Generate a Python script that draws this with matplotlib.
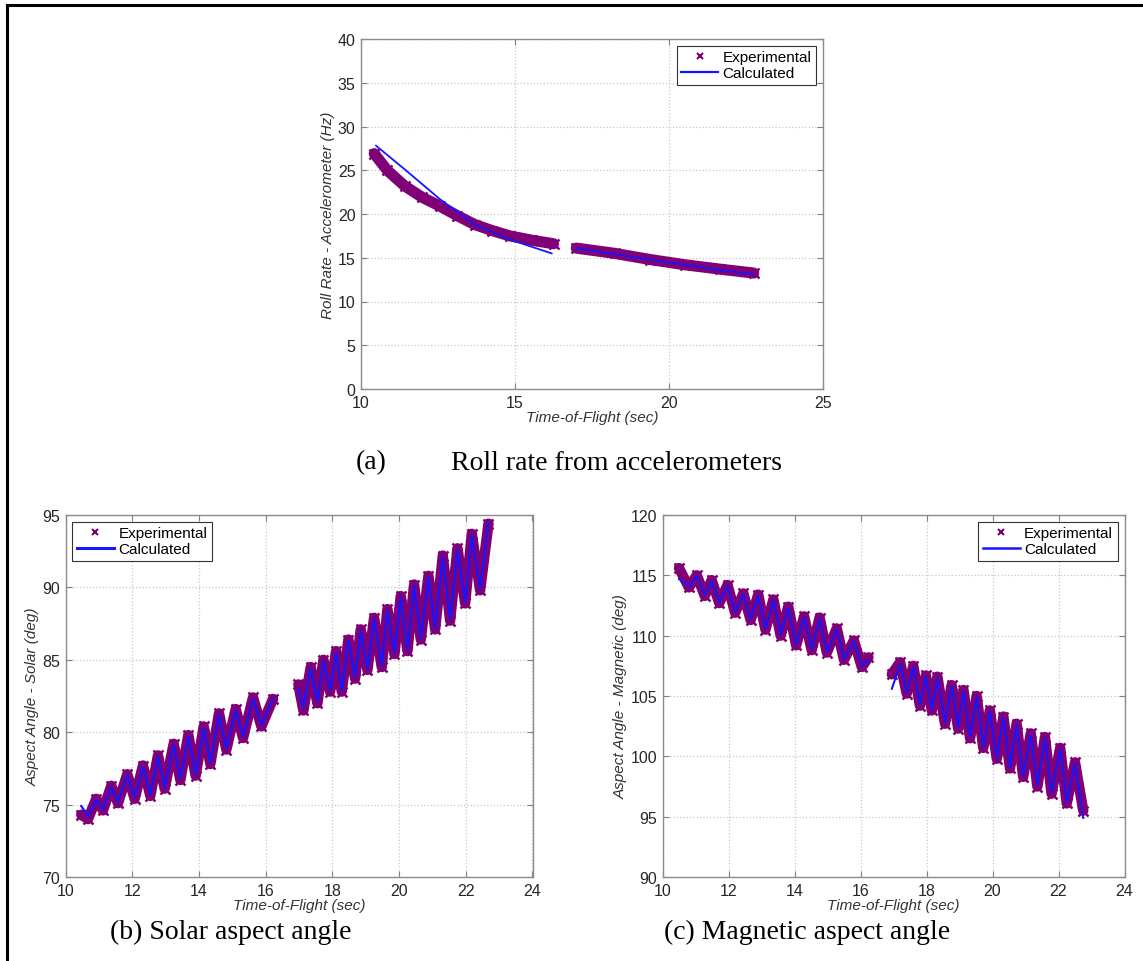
import matplotlib
matplotlib.use("Agg")
import matplotlib.pyplot as plt
from matplotlib.lines import Line2D

# (a) roll rate, Hz
roll_exp_t1 = [10.43, 10.85, 11.42, 11.99, 12.56, 13.13, 13.69, 14.26, 14.83, 15.55, 16.25]
roll_exp_v1 = [26.9, 25.0, 23.2, 21.9, 20.9, 19.8, 18.8, 18.1, 17.5, 17.0, 16.6]
roll_exp_t2 = [16.99, 18.24, 19.38, 20.51, 21.65, 22.75]
roll_exp_v2 = [16.1, 15.5, 14.8, 14.2, 13.7, 13.25]
roll_cal_t1 = [10.49, 11.42, 12.56, 13.69, 14.83, 15.50, 16.19]
roll_cal_v1 = [27.8, 25.1, 21.7, 18.8, 17.1, 16.3, 15.5]
roll_cal_t2 = [16.99, 18.24, 19.38, 20.51, 21.65, 22.75]
roll_cal_v2 = [16.1, 15.4, 14.8, 14.2, 13.6, 13.1]

# (b) solar aspect angle, deg
sol_t1 = [10.47, 10.67, 10.92, 11.12, 11.37, 11.57, 11.85, 12.07, 12.32, 12.54, 12.77, 12.97, 13.24,
          13.44, 13.68, 13.90, 14.14, 14.34, 14.60, 14.82, 15.10, 15.32, 15.62, 15.87, 16.22]
sol_exp_v1 = [74.3, 74.0, 75.4, 74.6, 76.3, 75.1, 77.1, 75.4, 77.7, 75.6, 78.4, 76.1, 79.2,
              76.7, 79.8, 77.0, 80.4, 77.8, 81.3, 78.8, 81.6, 79.6, 82.4, 80.4, 82.3]
sol_cal_v1 = [74.9, 74.2, 75.3, 74.7, 76.2, 75.2, 77.0, 75.5, 77.6, 75.7, 78.3, 76.2, 79.1,
              76.8, 79.7, 77.1, 80.3, 77.9, 81.2, 78.9, 81.5, 79.7, 82.3, 80.5, 82.3]
sol_t2 = [16.98, 17.13, 17.35, 17.55, 17.73, 17.93, 18.11, 18.28, 18.48, 18.68, 18.85, 19.05, 19.25,
          19.48, 19.65, 19.86, 20.05, 20.25, 20.45, 20.65, 20.88, 21.08, 21.31, 21.53, 21.75, 21.98,
          22.18, 22.43, 22.68]
sol_exp_v2 = [83.3, 81.5, 84.5, 82.0, 85.0, 82.8, 85.6, 82.8, 86.4, 83.7, 87.1, 84.3, 87.9,
              84.5, 88.5, 85.4, 89.4, 85.6, 90.2, 86.4, 90.8, 87.1, 92.2, 87.7, 92.7, 88.9,
              93.7, 89.8, 94.4]
sol_cal_v2 = [83.0, 81.7, 84.4, 82.1, 84.9, 82.9, 85.5, 82.9, 86.3, 83.8, 87.0, 84.4, 87.8,
              84.6, 88.4, 85.5, 89.3, 85.7, 90.1, 86.5, 90.7, 87.2, 92.1, 87.8, 92.6, 89.0,
              93.6, 89.9, 94.5]

# (c) magnetic aspect angle, deg
mag_t1 = [10.50, 10.80, 11.04, 11.28, 11.49, 11.72, 11.97, 12.20, 12.45, 12.67, 12.90, 13.12, 13.36,
          13.58, 13.81, 14.05, 14.29, 14.52, 14.76, 14.98, 15.28, 15.50, 15.80, 16.04, 16.24]
mag_exp_v1 = [115.6, 114.0, 115.0, 113.3, 114.6, 112.7, 114.2, 111.9, 113.5, 111.3, 113.4, 110.5, 113.0,
              110.0, 112.4, 109.2, 111.6, 108.8, 111.5, 108.6, 110.6, 108.0, 109.6, 107.4, 108.2]
mag_cal_v1 = [114.7, 114.1, 114.9, 113.4, 114.5, 112.8, 114.1, 112.0, 113.4, 111.4, 113.3, 110.6, 112.9,
              110.1, 112.3, 109.3, 111.5, 108.9, 111.4, 108.7, 110.5, 108.1, 109.5, 107.5, 108.0]
mag_t2 = [16.95, 17.20, 17.40, 17.60, 17.80, 17.98, 18.16, 18.33, 18.56, 18.76, 18.96, 19.12, 19.32,
          19.52, 19.72, 19.92, 20.13, 20.33, 20.53, 20.73, 20.93, 21.16, 21.36, 21.59, 21.79, 22.05,
          22.25, 22.50, 22.75]
mag_exp_v2 = [106.8, 107.8, 105.2, 107.5, 104.2, 106.7, 103.8, 106.6, 102.7, 105.9, 102.3, 105.5, 101.5,
              105.0, 100.7, 103.8, 99.8, 103.3, 99.0, 102.7, 98.3, 101.9, 97.5, 101.6, 96.9, 100.7,
              96.1, 99.5, 95.5]
mag_cal_v2 = [105.6, 107.6, 105.3, 107.4, 104.3, 106.6, 103.9, 106.5, 102.8, 105.8, 102.4, 105.4, 101.6,
              104.9, 100.8, 103.7, 99.9, 103.2, 99.1, 102.6, 98.4, 101.8, 97.6, 101.5, 97.0, 100.6,
              96.2, 99.4, 94.9]

EXP_C = "#800075"
CAL_C = "#1515ff"
TXT_C = "#262626"

plt.rcParams["font.family"] = ["Liberation Sans", "DejaVu Sans"]

fig = plt.figure(figsize=(11.43, 9.62), dpi=100)
W, H = 1143.0, 962.0


def box(l, t, r, b):
    return [l / W, 1 - b / H, (r - l) / W, (b - t) / H]


def style(ax, xlim, xticks, ylim, yticks, ylabel):
    ax.set_xlim(*xlim)
    ax.set_ylim(*ylim)
    ax.set_xticks(xticks)
    ax.set_yticks(yticks)
    ax.grid(True, color="#c8c8c8", linestyle=":", linewidth=0.9)
    ax.set_axisbelow(True)
    ax.tick_params(direction="in", length=4, width=0.8, colors="#808080",
                   labelcolor=TXT_C, labelsize=11.5, top=True, right=True, pad=4)
    for s in ax.spines.values():
        s.set_color("#8c8c8c")
        s.set_linewidth(1.0)
    ax.set_xlabel("Time-of-Flight (sec)", style="italic", fontsize=11, color="#333333", labelpad=0)
    ax.set_ylabel(ylabel, style="italic", fontsize=11, color="#333333", labelpad=2)


def draw(ax, segs_exp, segs_cal, exp_lw, cal_lw):
    for t, v in segs_exp:
        ax.plot(t, v, color=EXP_C, lw=exp_lw, solid_capstyle="round", solid_joinstyle="round", zorder=2)
        ax.plot(t, v, ls="none", marker="x", ms=7, mew=1.8, color=EXP_C, zorder=2)
    for t, v in segs_cal:
        ax.plot(t, v, color=CAL_C, lw=cal_lw, zorder=3)


def legend(ax, loc, cal_lw):
    handles = [Line2D([], [], ls="none", marker="x", ms=4, mew=1.5, color=EXP_C),
               Line2D([], [], color=CAL_C, lw=cal_lw)]
    lg = ax.legend(handles, ["Experimental", "Calculated"], loc=loc, fontsize=11,
                   fancybox=False, framealpha=1, edgecolor="#333333", handlelength=2.4,
                   handletextpad=0.3, borderpad=0.3, labelspacing=0.12, borderaxespad=0.45)
    lg.get_frame().set_linewidth(0.8)


# (a)
ax1 = fig.add_axes(box(361, 40, 823, 390))
draw(ax1, [(roll_exp_t1, roll_exp_v1), (roll_exp_t2, roll_exp_v2)],
     [(roll_cal_t1, roll_cal_v1), (roll_cal_t2, roll_cal_v2)], 8, 1.3)
style(ax1, (10, 25), [10, 15, 20, 25], (0, 40), range(0, 41, 5), "Roll Rate - Accelerometer (Hz)")
legend(ax1, "upper right", 1.6)

# (b)
ax2 = fig.add_axes(box(65.6, 516, 532.5, 878))
draw(ax2, [(sol_t1, sol_exp_v1), (sol_t2, sol_exp_v2)],
     [(sol_t1, sol_cal_v1), (sol_t2, sol_cal_v2)], 7.5, 1.6)
style(ax2, (10, 24), range(10, 25, 2), (70, 95), range(70, 96, 5), "Aspect Angle - Solar (deg)")
legend(ax2, "upper left", 2.2)

# (c)
ax3 = fig.add_axes(box(662.5, 516, 1124.5, 878))
draw(ax3, [(mag_t1, mag_exp_v1), (mag_t2, mag_exp_v2)],
     [(mag_t1, mag_cal_v1), (mag_t2, mag_cal_v2)], 7.5, 1.5)
style(ax3, (10, 24), range(10, 25, 2), (90, 120), range(90, 121, 5), "Aspect Angle - Magnetic (deg)")
legend(ax3, "upper right", 1.8)

# captions
cap = dict(family=["Liberation Serif", "DejaVu Serif"], fontsize=20, color="black", va="center")
fig.text(356 / W, 1 - 463 / H, "(a)", ha="left", **cap)
fig.text(451 / W, 1 - 463 / H, "Roll rate from accelerometers", ha="left", **cap)
fig.text(110 / W, 1 - 932 / H, "(b) Solar aspect angle", ha="left", **cap)
fig.text(664 / W, 1 - 932 / H, "(c) Magnetic aspect angle", ha="left", **cap)

# frame lines at top and left
fig.add_artist(Line2D([6.5 / W, 1], [1 - 5.5 / H, 1 - 5.5 / H], color="black", lw=2.2))
fig.add_artist(Line2D([6.5 / W, 6.5 / W], [0, 1 - 5.5 / H], color="black", lw=2.2))

fig.savefig("out.png", dpi=100)
